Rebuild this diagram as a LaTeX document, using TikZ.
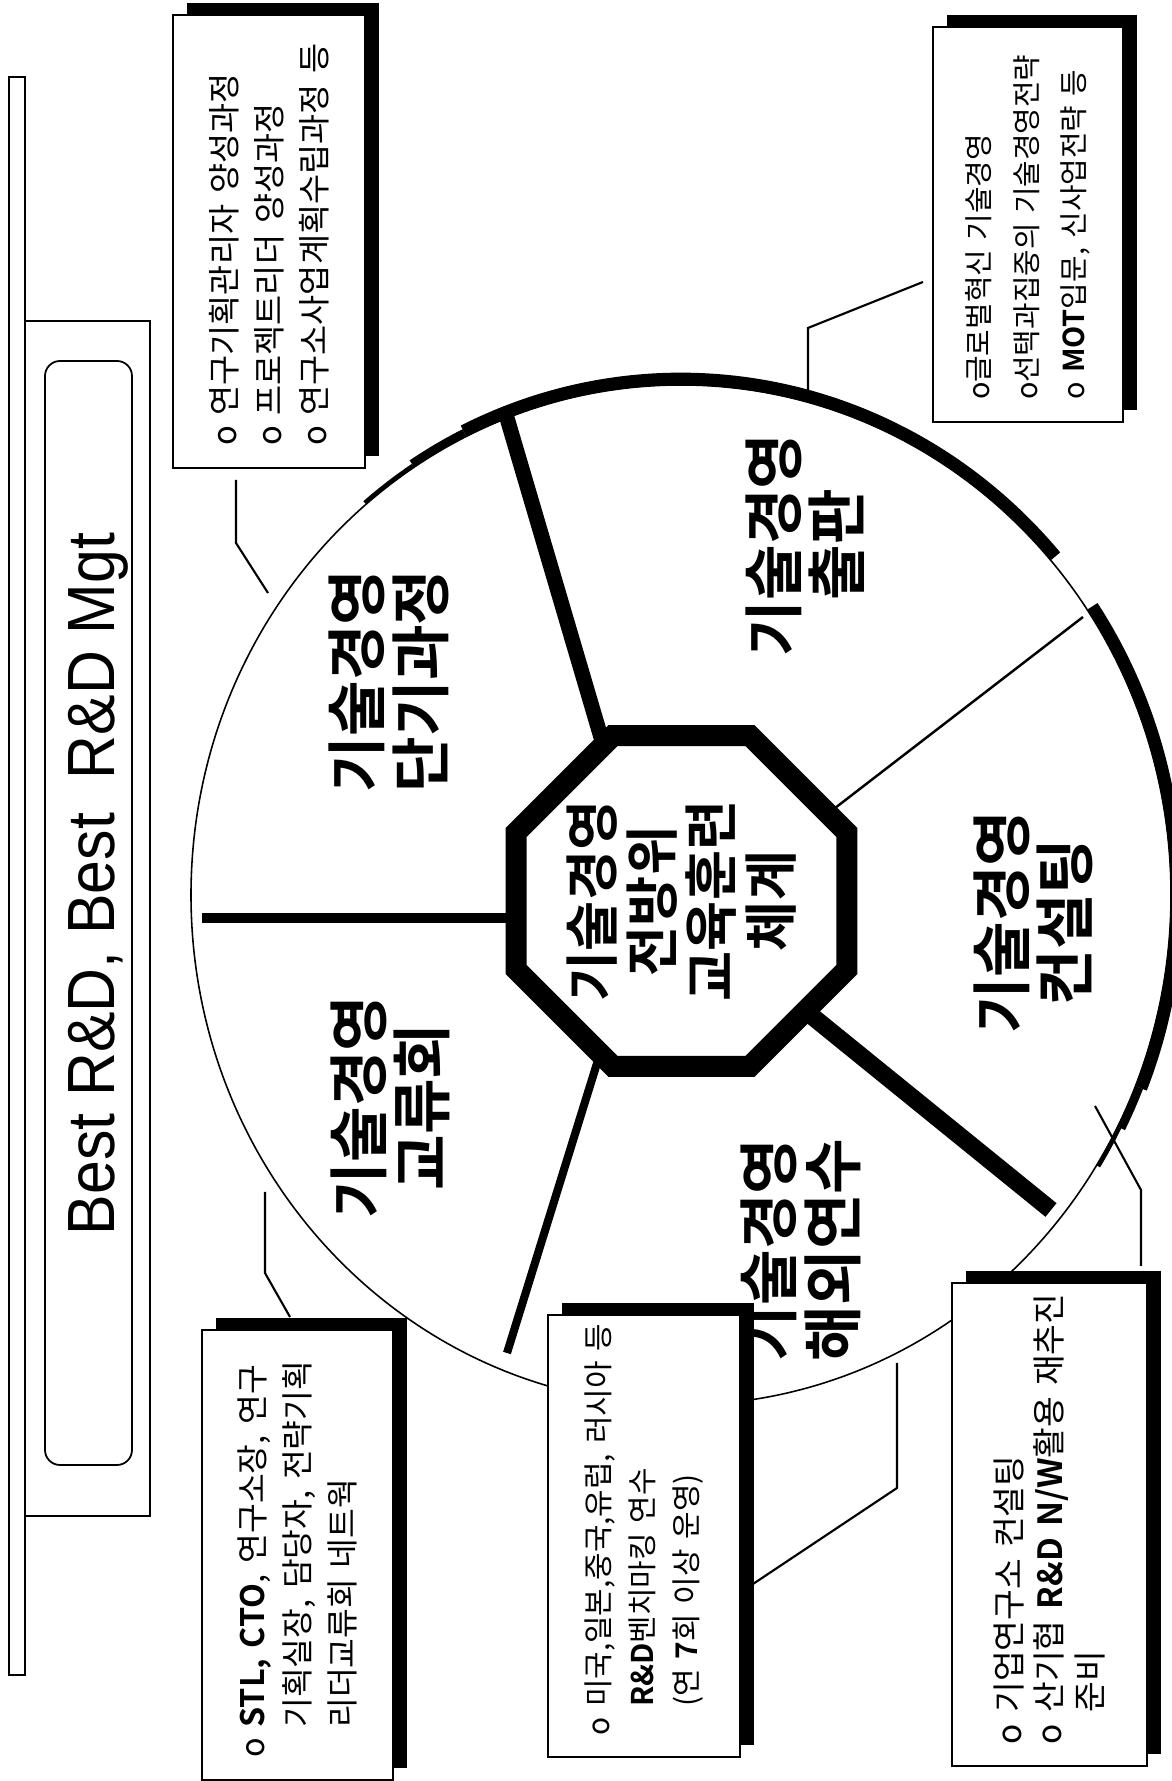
\documentclass[tikz,border=0pt]{standalone}
\usepackage{fontspec}
\setmainfont{Liberation Sans}
\newfontfamily\krfont{Noto Sans CJK KR}[BoldFont={Noto Sans CJK KR Bold}]
\usetikzlibrary{shapes.geometric,calc}

\tikzset{
  infobox/.style={draw, line width=0.8pt, fill=white, rotate=90,
    inner xsep=0.22cm, inner ysep=0pt, outer sep=0pt, align=left,
    preaction={fill=black, transform canvas={shift={(0.14,0.12)}}}},
  sector/.style={rotate=90, align=center,
    font=\krfont\bfseries\fontsize{17.2}{18}\selectfont},
  sepline/.style={line cap=butt},
  conn/.style={line width=0.6pt},
}

\begin{document}
\begin{tikzpicture}
    \useasboundingbox (0,0) rectangle (11.71,17.81);
    \fill[white] (0,0) rectangle (11.71,17.81);

    % 제목 띠
    \draw[line width=0.5pt] (0.09,1.06) rectangle (0.25,17.04);
    \draw[line width=0.5pt] (0.25,2.65) rectangle (1.50,14.60);
    \draw[line width=0.5pt, rounded corners=0.15cm] (0.45,3.16) rectangle (1.32,14.20);
    \node[rotate=90, anchor=base, font=\fontsize{19}{22}\selectfont] (title) at (1.14,8.97)
        {\scalebox{0.91}[1]{Best R\&D, Best\ \ R\&D Mgt}};

    % 원
    \coordinate (c) at (6.81,8.86);
    \draw[line width=0.45pt] (c) ellipse [x radius=4.90, y radius=5.10];
    \begin{scope}[shift={(c)}]
        \draw[line width=1.2pt] (130:4.92 and 5.12) arc[start angle=130, end angle=123, x radius=4.92, y radius=5.12];
        \draw[line width=2.4pt] (123:4.94 and 5.14) arc[start angle=123, end angle=116, x radius=4.94, y radius=5.14];
        \draw[line width=3.6pt] (116:4.96 and 5.16) arc[start angle=116, end angle=41, x radius=4.96, y radius=5.16];
        \draw[line width=3.6pt] (34:4.96 and 5.16) arc[start angle=34, end angle=-22, x radius=4.96, y radius=5.16];
        \draw[line width=2.4pt] (-22:4.94 and 5.14) arc[start angle=-22, end angle=-27, x radius=4.94, y radius=5.14];
        \draw[line width=1.2pt] (-27:4.92 and 5.12) arc[start angle=-27, end angle=-32, x radius=4.92, y radius=5.12];
    \end{scope}

    % 구분선
    \coordinate (s1i) at (5.20,8.63);  \coordinate (s1o) at (2.02,8.63);
    \coordinate (s2i) at (6.05,10.30); \coordinate (s2o) at (5.07,13.63);
    \coordinate (s3i) at (8.26,9.66);  \coordinate (s3o) at (10.83,11.64);
    \coordinate (s4i) at (7.97,7.77);  \coordinate (s4o) at (10.51,5.71);
    \coordinate (s5i) at (6.03,7.37);  \coordinate (s5o) at (5.07,4.28);
    \draw[sepline, line width=3pt]   (s1i) -- (s1o);
    \draw[sepline, line width=4.3pt] (s2i) -- (s2o);
    \draw[sepline, line width=0.7pt] (s3i) -- (s3o);
    \draw[sepline, line width=5pt]   (s4i) -- (s4o);
    \draw[sepline, line width=2.3pt] (s5i) -- (s5o);

    % 가운데 팔각형
    \node[regular polygon, regular polygon sides=8, minimum size=3.58cm, inner sep=0pt,
          draw, line width=6pt, fill=white] (hub) at (6.815,8.80) {};
    \node[rotate=90, align=center, font=\krfont\bfseries\fontsize{15.5}{17}\selectfont]
        (hubtext) at (hub) {기술경영\\전방위\\교육훈련\\체계};

    % 설명 상자
    \node[infobox, minimum width=4.53cm, minimum height=1.92cm, text width=4.09cm,
          font=\krfont\fontsize{9.3}{12.8}\selectfont] (boxA) at (2.69,15.395)
        {o~연구기획관리자~양성과정\\o~프로젝트리더~양성과정\\o~연구소사업계획수립과정~등};
    \node[infobox, minimum width=3.95cm, minimum height=1.90cm, text width=3.51cm,
          font=\krfont\fontsize{8.2}{13.5}\selectfont] (boxB) at (10.28,15.565)
        {o글로벌혁신~기술경영\\o선택과집중의~기술경영전략\\o~\textbf{MOT}입문,~신사업전략~등};
    \node[infobox, minimum width=4.50cm, minimum height=1.91cm, text width=4.06cm,
          font=\krfont\fontsize{9.2}{12.8}\selectfont] (boxC) at (2.975,2.26)
        {o~\textbf{STL,~CTO},~연구소장,~연구\\\phantom{o~}기획실장,~담당자,~전략기획\\\phantom{o~}리더교류회~네트웍};
    \node[infobox, minimum width=4.42cm, minimum height=1.92cm, text width=3.98cm,
          font=\krfont\fontsize{8.5}{12.5}\selectfont] (boxD) at (6.44,2.45)
        {o~미국,일본,중국,유럽,~러시아~등\\\phantom{o~}\textbf{R\&D}벤치마킹~연수\\\phantom{o~}(연~\textbf{7}회~이상~운영)};
    \node[infobox, minimum width=4.83cm, minimum height=1.95cm, text width=4.39cm,
          font=\krfont\fontsize{9.5}{11.4}\selectfont] (boxE) at (10.495,2.565)
        {o~기업연구소~컨설팅\\o~산기협~\textbf{R\&D~N/W}활용~재추진\\\phantom{o~}준비};

    % 연결선
    \coordinate (tipA) at (2.68,11.88);
    \coordinate (tipB) at (8.08,13.89);
    \coordinate (tipC) at (2.65,5.89);
    \coordinate (tipD) at (8.97,4.18);
    \coordinate (tipE) at (10.95,6.75);
    \draw[conn] ([shift={(-0.33,-0.12)}]boxA.west) -- ++(0,-0.63) -- (tipA);
    \draw[conn] ([shift={(-0.10,-0.575)}]boxB.north) -- ++(-1.15,-0.46) -- (tipB);
    \draw[conn] ([shift={(-0.075,0.13)}]boxC.east) -- ++(-0.25,0.44) -- (tipC);
    \draw[conn] ([shift={(0.13,-0.48)}]boxD.south) -- ++(1.44,0.96) -- (tipD);
    \draw[conn] ([shift={(0.915,0.17)}]boxE.east) -- ++(0,0.76) -- (tipE);

    % 영역 이름
    \node[sector] (secA) at (3.89,11.00) {기술경영\\단기과정};
    \node[sector] (secB) at (3.90,6.74) {기술경영\\교류회};
    \node[sector] (secC) at (8.05,12.36) {기술경영\\출판};
    \node[sector] (secD) at (10.33,8.59) {기술경영\\컨설팅};
    \node[sector] (secE) at (8.01,5.31) {기술경영\\해외연수};
\end{tikzpicture}
\end{document}
